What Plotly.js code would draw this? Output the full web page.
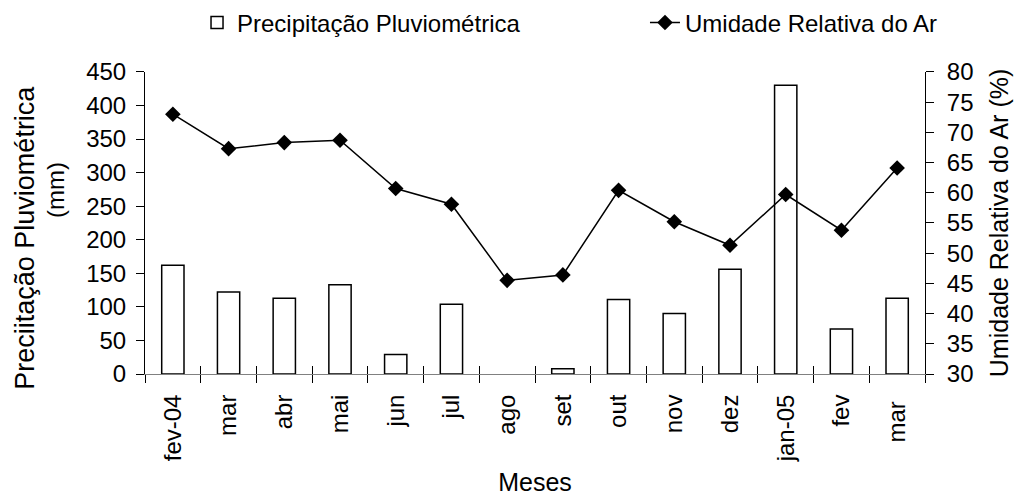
<!DOCTYPE html>
<html>
<head>
<meta charset="utf-8">
<script src="https://cdn.plot.ly/plotly-3.0.1.min.js"></script>
<style>html,body{margin:0;padding:0;background:#fff}</style>
</head>
<body>
<div id="chart" style="width:1019px;height:496px"></div>
<script>
const months = ["fev-04","mar","abr","mai","jun","jul","ago","set","out","nov","dez","jan-05","fev","mar "];
const precipitacao = [162,122,113,133,29,104,null,8,111,90,156,430,67,113];
const umidade = [73.0,67.3,68.3,68.7,60.7,58.1,45.5,46.4,60.4,55.2,51.3,59.7,53.8,64.1];
const leftTicks = [0,50,100,150,200,250,300,350,400,450];
const rightTicks = [30,35,40,45,50,55,60,65,70,75,80];

const FAM = '"Liberation Sans", Arial, sans-serif';
const font = {family: FAM, size: 24, color: '#000'};
const titleFont = {family: FAM, size: 25, color: '#000'};

const traces = [
  {type:'bar', name:'Precipitação Pluviométrica', x: months, y: precipitacao,
   xaxis:'x', yaxis:'y', width:0.4, legend:'legend',
   marker:{color:'#fff', line:{color:'#000', width:1.5}}},
  {type:'scatter', mode:'lines+markers', name:'Umidade Relativa do Ar', x: months, y: umidade,
   xaxis:'x2', yaxis:'y2', legend:'legend2',
   line:{color:'#000', width:1.5}, marker:{symbol:'diamond', size:12, color:'#000'}}
];

const catAxis = {type:'category', categoryorder:'array', categoryarray: months,
  range:[-0.5, months.length-0.5], tickson:'boundaries', ticklen:8, tickwidth:1, tickcolor:'#000',
  showgrid:false, zeroline:false, fixedrange:true};

// paper height = 496 - 122 = 374 px; plot top at 70 px from top
const PH = 374;
const py = (px) => (PH - px) / PH;

const legendBase = {orientation:'h', xanchor:'left', y:py(21), yanchor:'middle',
  font: font, bgcolor:'rgba(0,0,0,0)', borderwidth:0};

const layout = {
  width:1019, height:496,
  margin:{l:145, r:94, t:0, b:122, pad:0},
  paper_bgcolor:'#fff', plot_bgcolor:'#fff',
  font: font,
  showlegend:true,
  legend: Object.assign({}, legendBase, {x:0.0667}),
  legend2: Object.assign({}, legendBase, {x:0.641}),
  xaxis: Object.assign({}, catAxis, {ticks:'outside', showline:true, linecolor:'#808080', linewidth:1,
    tickangle:-90, tickfont: font, ticklabelstandoff:10,
    title:{text:'Meses', font: titleFont, standoff:13}}),
  xaxis2: Object.assign({}, catAxis, {overlaying:'x', anchor:'y', ticks:'inside', showline:false,
    showticklabels:false}),
  yaxis:{domain:[0, py(70.3)], range:[0,450], tickvals:leftTicks, ticks:'outside', ticklen:8, tickcolor:'#000',
    showline:true, linecolor:'#000', linewidth:1, showgrid:false, zeroline:false,
    tickfont: font, ticklabelstandoff:5},
  yaxis2:{overlaying:'y', side:'right', anchor:'x', range:[30,80], tickvals:rightTicks, ticks:'outside', ticklen:8,
    tickcolor:'#000', showline:true, linecolor:'#000', linewidth:1, showgrid:false, zeroline:false,
    tickfont: font, ticklabelstandoff:8,
    title:{text:'Umidade Relativa do Ar (%)', font: titleFont, standoff:18}},
  yaxis3:{overlaying:'y', side:'right', anchor:'x', range:[30,80], tickvals:rightTicks, ticks:'inside', ticklen:8,
    tickcolor:'#000', showline:false, showgrid:false, zeroline:false, showticklabels:false},
  annotations:[
    {text:'Preciitação Pluviométrica', xref:'paper', yref:'paper', x:-(145-25)/780, y:py(237),
     xanchor:'center', yanchor:'middle', textangle:-90, showarrow:false, font:{family:FAM, size:27, color:'#000'}},
    {text:'(mm)', xref:'paper', yref:'paper', x:-(145-56)/780, y:py(189),
     xanchor:'center', yanchor:'middle', textangle:-90, showarrow:false, font:{family:FAM, size:24, color:'#000'}}
  ]
};

Plotly.newPlot('chart', traces, layout, {displayModeBar:false, staticPlot:true});
</script>
</body>
</html>
